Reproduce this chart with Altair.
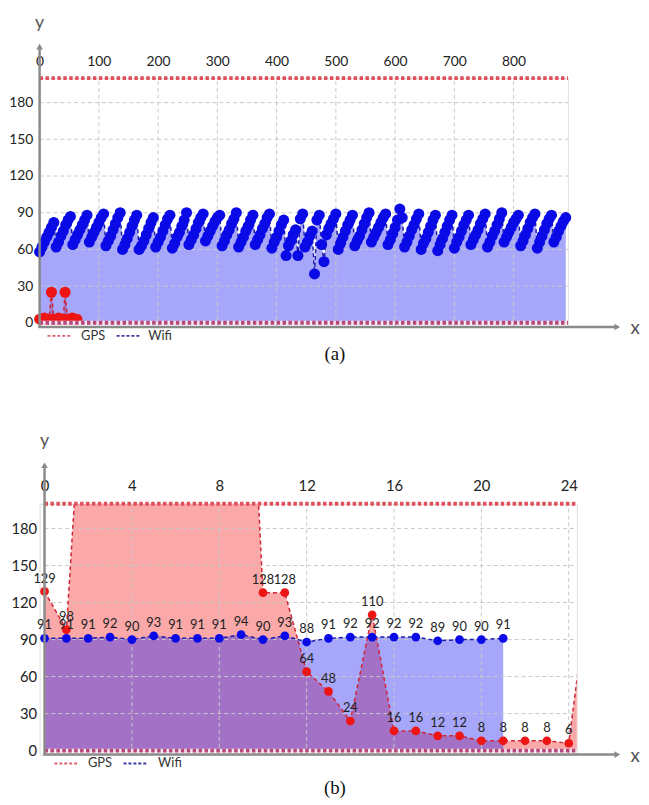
import altair as alt
import pandas as pd

# ---------------- panel (a) data ----------------
gps_a_x = [0, 4, 8, 12, 16, 20, 24, 28, 32, 36, 40, 43, 47, 51, 55, 59, 63]
gps_a_y = [3, 3, 4, 3, 3, 25, 3, 3, 4, 3, 3, 25, 3, 3, 4, 3, 3]

wifi_a_x = list(range(0, 889, 4))
wifi_a_y = [
    58, 62, 66, 70, 74, 78, 82,
    62, 66, 71, 75, 80, 84, 87,
    64, 68, 72, 76, 80, 84, 88,
    66, 70, 74, 78, 82, 86, 89,
    63, 67, 71, 76, 81, 86, 90,
    60, 64, 69, 74, 79, 84, 88,
    60, 63, 67, 72, 77, 82, 86,
    62, 66, 70, 75, 80, 85, 88,
    61, 65, 70, 74, 79, 84, 90,
    64, 68, 72, 77, 82, 86, 89,
    67, 71, 75, 79, 83, 86, 88,
    63, 67, 72, 76, 81, 85, 90,
    62, 66, 70, 75, 79, 84, 88,
    64, 68, 72, 77, 81, 86, 89,
    61, 66, 70, 75, 80, 84, 55,
    63, 67, 72, 76, 55, 85, 89,
    62, 66, 71, 75, 40, 84, 88,
    64, 50, 72, 77, 81, 85, 89,
    60, 65, 70, 75, 80, 84, 88,
    63, 67, 71, 76, 81, 86, 90,
    66, 70, 74, 78, 82, 86, 89,
    64, 68, 73, 78, 84, 93, 86,
    62, 66, 71, 76, 80, 85, 89,
    60, 65, 69, 74, 79, 84, 88,
    59, 64, 69, 74, 79, 84, 88,
    61, 66, 70, 75, 80, 84, 88,
    64, 68, 72, 76, 81, 85, 89,
    62, 66, 71, 75, 80, 85, 90,
    66, 70, 74, 78, 82, 85, 88,
    63, 67, 72, 77, 82, 86, 89,
    61, 66, 71, 76, 81, 85, 88,
    66, 70, 75, 79, 83, 86,
]
x_ticks_a = [0, 100, 200, 300, 400, 500, 600, 700, 800]

# ---------------- panel (b) data ----------------
gps_b_x = list(range(0, 26))
gps_b_y = [129, 98, 380, 420, 440, 430, 450, 460, 470, 490, 128, 128, 64, 48,
           24, 110, 16, 16, 12, 12, 8, 8, 8, 8, 6, 143]
wifi_b_x = list(range(0, 22))
wifi_b_y = [91, 91, 91, 92, 90, 93, 91, 91, 91, 94, 90, 93, 88, 91, 92, 92,
            92, 92, 89, 90, 90, 91]
x_ticks_b = [0, 4, 8, 12, 16, 20, 24]

y_ticks = [0, 30, 60, 90, 120, 150, 180]
limit_line = [200]
floor_line = [0]

FONT = "Lato"
GRID = "#c8c8c8"
AXC = "#8a8a8a"
RED_AREA = "#faa8a8"
BLUE_AREA = "#2020f2"
RED_PT = "#ee1515"
BLUE_PT = "#0a0ae6"
RED_LN = "#d02535"
BLUE_LN = "#1c1ca8"


def panel(gx, gy, wx, wy, xmax, ymin, xticks, W, H, off, lab_fs, ypad, xpad,
          pt_size, show_labels, caption, cap_x, cap_y, ylab_y, arrow_top,
          xend, leg, top_anchor, bottom_anchor):
    gps = pd.DataFrame({"x": gx, "y": gy})
    wifi = pd.DataFrame({"x": wx, "y": wy})
    one = pd.DataFrame({"k": [0]})
    ppu = W / xmax
    xs = alt.Scale(domain=[-off / ppu, xmax], nice=False, zero=False)
    ys = alt.Scale(domain=[ymin, 200], nice=False, zero=False)
    xaxis = alt.Axis(orient="top", values=xticks, grid=False, ticks=False,
                     domain=False, labelFlush=False, labelPadding=xpad,
                     labelFontSize=lab_fs, labelFont=FONT, labelColor="#222",
                     title=None)
    yaxis = alt.Axis(orient="left", values=y_ticks, grid=False, ticks=False,
                     domain=False, labelPadding=ypad, labelFontSize=lab_fs,
                     labelFont=FONT, labelColor="#222", title=None)

    def X(f):
        return alt.X(f"{f}:Q", scale=xs, axis=xaxis)

    def Y(f):
        return alt.Y(f"{f}:Q", scale=ys, axis=yaxis)

    layers = []
    layers.append(alt.Chart(gps).mark_area(color=RED_AREA, opacity=1, clip=True)
                  .encode(x=X("x"), y=Y("y"), y2=alt.datum(0)))
    layers.append(alt.Chart(wifi).mark_area(color=BLUE_AREA, opacity=0.4, clip=True)
                  .encode(x=X("x"), y=Y("y"), y2=alt.datum(0)))
    layers.append(alt.Chart(pd.DataFrame({"g": xticks[1:]}))
                  .mark_rule(color=GRID, strokeDash=[4, 3], strokeWidth=1)
                  .encode(x=X("g"), y=alt.datum(ymin), y2=alt.datum(200)))
    layers.append(alt.Chart(pd.DataFrame({"g": y_ticks[1:]}))
                  .mark_rule(color=GRID, strokeDash=[4, 3], strokeWidth=1)
                  .encode(y=Y("g"), x=alt.datum(0), x2=alt.datum(xmax)))
    layers.append(alt.Chart(gps).mark_line(color=RED_LN, strokeDash=[4, 3],
                                           strokeWidth=1.5, clip=True)
                  .encode(x=X("x"), y=Y("y")))
    layers.append(alt.Chart(wifi).mark_line(color=BLUE_LN, strokeDash=[4, 3],
                                            strokeWidth=1.5, clip=True)
                  .encode(x=X("x"), y=Y("y")))
    layers.append(alt.Chart(gps).transform_filter("datum.y <= 200 && datum.x <= %f" % xmax)
                  .mark_circle(color=RED_PT, size=pt_size, opacity=1)
                  .encode(x=X("x"), y=Y("y")))
    layers.append(alt.Chart(wifi).mark_circle(color=BLUE_PT, size=pt_size, opacity=1)
                  .encode(x=X("x"), y=Y("y")))
    if show_labels:
        for df in (gps, wifi):
            layers.append(alt.Chart(df).transform_filter("datum.y <= 200 && datum.x <= %f" % xmax)
                          .mark_text(dy=-13, fontSize=13, font=FONT, color="#222")
                          .encode(x=X("x"), y=Y("y"), text="y:Q"))
    # limit and floor dotted lines
    layers.append(alt.Chart(pd.DataFrame({"v": limit_line}))
                  .mark_rule(color="#e0505c", strokeWidth=4, strokeDash=[3.5, 2.5])
                  .encode(y=Y("v"), x=alt.datum(0), x2=alt.datum(xmax)))
    layers.append(alt.Chart(pd.DataFrame({"v": floor_line}))
                  .mark_rule(color="#f3e6ee", strokeWidth=4)
                  .encode(y=Y("v"), x=alt.datum(0), x2=alt.datum(xmax)))
    layers.append(alt.Chart(pd.DataFrame({"v": floor_line}))
                  .mark_rule(color="#b8467a", strokeWidth=4, strokeDash=[3.5, 2.5])
                  .encode(y=Y("v"), x=alt.datum(0), x2=alt.datum(xmax)))
    # axis lines with arrows
    layers.append(alt.Chart(one).mark_rule(color=AXC, strokeWidth=2.5)
                  .encode(x=alt.value(off), y=alt.value(arrow_top + 3), y2=alt.value(H + 1)))
    layers.append(alt.Chart(one).mark_rule(color=AXC, strokeWidth=2.5)
                  .encode(x=alt.value(off - 1), x2=alt.value(off + xend - 3), y=alt.value(H)))
    layers.append(alt.Chart(one).mark_point(shape="triangle-up", filled=True,
                                            color=AXC, size=45, opacity=1)
                  .encode(x=alt.value(off), y=alt.value(arrow_top + 3)))
    layers.append(alt.Chart(one).mark_point(shape="triangle-right", filled=True,
                                            color=AXC, size=45, opacity=1)
                  .encode(x=alt.value(off + xend - 3), y=alt.value(H)))
    layers.append(alt.Chart(one).mark_text(text="y", fontSize=18, font=FONT,
                                           color="#555", baseline="alphabetic")
                  .encode(x=alt.value(off), y=alt.value(ylab_y)))
    layers.append(alt.Chart(one).mark_text(text="x", fontSize=19, font=FONT,
                                           color="#555", baseline="middle")
                  .encode(x=alt.value(off + xend + 15), y=alt.value(H + 1)))
    # legend
    lr0, lr1, lt0, lb0, lb1, lt1 = leg
    layers.append(alt.Chart(one).mark_rule(color="#e06070", strokeWidth=2, strokeDash=[3, 2])
                  .encode(x=alt.value(off + lr0), x2=alt.value(off + lr1), y=alt.value(H + 9)))
    layers.append(alt.Chart(one).mark_text(text="GPS", fontSize=13, font=FONT, color="#333",
                                           align="left", baseline="middle")
                  .encode(x=alt.value(off + lt0), y=alt.value(H + 9)))
    layers.append(alt.Chart(one).mark_rule(color="#3a3aa8", strokeWidth=2, strokeDash=[3, 2])
                  .encode(x=alt.value(off + lb0), x2=alt.value(off + lb1), y=alt.value(H + 9)))
    layers.append(alt.Chart(one).mark_text(text="Wifi", fontSize=13, font=FONT, color="#333",
                                           align="left", baseline="middle")
                  .encode(x=alt.value(off + lt1), y=alt.value(H + 9)))
    # caption
    layers.append(alt.Chart(one).mark_text(text=caption, fontSize=19, font="Liberation Serif",
                                           color="#111", baseline="middle")
                  .encode(x=alt.value(off + cap_x), y=alt.value(cap_y)))
    # invisible layout anchors (fix the panel's vertical extent)
    layers.append(alt.Chart(one).mark_rule(opacity=0, strokeWidth=0.1)
                  .encode(x=alt.value(off), x2=alt.value(off + 1), y=alt.value(top_anchor)))
    layers.append(alt.Chart(one).mark_rule(opacity=0, strokeWidth=0.1)
                  .encode(x=alt.value(off), x2=alt.value(off + 1), y=alt.value(bottom_anchor)))
    return alt.layer(*layers).properties(width=W + off, height=H)


pa = panel(gps_a_x, gps_a_y, wifi_a_x, wifi_a_y, 891.7, -3.4, x_ticks_a,
           535, 252, 0, 14, 7, 10, 125, False, "(a)", 299, 252 + 27, -51, -35, 588,
           (8, 31, 42, 78, 101, 110), -65, 252 + 38)
pb = panel(gps_b_x, gps_b_y, wifi_b_x, wifi_b_y, 24.37, -3.2, x_ticks_b,
           539, 254, 5, 15, 3, 10, 78, True, "(b)", 294, 254 + 34, -59, -42, 583,
           (10, 33, 44, 80, 103, 115), -74, 254 + 44)

chart = alt.vconcat(pa, pb, spacing=65).properties(padding=0).configure_view(
    stroke=None).configure(background="white")
chart.save("out.html", embed_options={"renderer": "svg", "actions": False})
